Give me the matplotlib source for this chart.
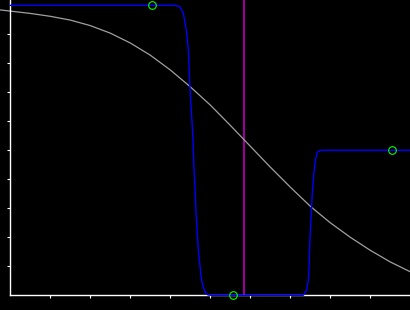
import matplotlib
matplotlib.use('Agg')
import matplotlib.pyplot as plt

# grey reference curve
grey_x = [-0.25, 0.0, 0.5, 1.0, 1.5, 2.0, 2.5, 3.0, 3.5, 4.0, 4.5, 5.0,
          5.5, 6.0, 6.5, 7.0, 7.5, 8.0, 8.5, 9.0, 9.5, 10.0]
grey_y = [0.984, 0.980, 0.972, 0.962, 0.949, 0.930, 0.904, 0.870, 0.828,
          0.777, 0.719, 0.656, 0.586, 0.514, 0.442, 0.373, 0.307, 0.250,
          0.200, 0.155, 0.115, 0.081]

# blue step curve
blue_x = [0.0, 4.12, 4.24, 4.325, 4.37, 4.41, 4.45, 4.47, 4.49, 4.52, 4.55,
          4.575, 4.59, 4.62, 4.64, 4.67, 4.70, 4.735, 4.77, 4.81, 4.87, 4.94,
          5.02, 7.325, 7.41, 7.45, 7.47, 7.49, 7.52, 7.55, 7.59, 7.63, 7.675,
          7.74, 7.80, 10.0]
blue_y = [1.0, 1.0, 0.995, 0.973, 0.939, 0.904, 0.846, 0.787, 0.718, 0.650,
          0.581, 0.511, 0.442, 0.363, 0.294, 0.225, 0.156, 0.111, 0.063,
          0.035, 0.011, 0.001, 0.0, 0.0, 0.018, 0.053, 0.098, 0.191, 0.270,
          0.353, 0.422, 0.467, 0.494, 0.499, 0.5, 0.5]

# control points
knot_x = [3.55, 5.575, 9.55]
knot_y = [1.0, 0.0, 0.5]

marker_x = 5.85

xticks = [1, 2, 3, 4, 5, 6, 7, 8, 9]
yticks = [0.1, 0.2, 0.3, 0.4, 0.5, 0.6, 0.7, 0.8, 0.9]

fig = plt.figure(figsize=(4.1001, 3.1001), dpi=100, facecolor='black')
ax = fig.add_axes([0, 0, 1, 1])
ax.set_facecolor('black')

xlim = (-0.2575, 9.9925)
ylim = (-0.0507, 1.0183)

ax.vlines(marker_x, 0, ylim[1], color='#990099', lw=1.5, zorder=1)
ax.plot(grey_x, grey_y, color='#a0a0a0', lw=0.9, zorder=2)
ax.plot(blue_x, blue_y, color='#0000ff', lw=1.0, zorder=3)
ax.plot(knot_x, knot_y, 'o', ms=5.5, mfc='none', mec='#00ff00', mew=0.8,
        clip_on=False, zorder=4)

ax.set_xlim(xlim)
ax.set_ylim(ylim)

for side in ['top', 'right']:
    ax.spines[side].set_visible(False)
for side in ['left', 'bottom']:
    ax.spines[side].set_position(('data', 0))
    ax.spines[side].set_color('white')
    ax.spines[side].set_linewidth(1.0)
ax.spines['left'].set_bounds(0, ylim[1])
ax.spines['bottom'].set_bounds(0, xlim[1])

ax.set_xticks(xticks)
ax.set_yticks(yticks)
ax.set_xticklabels([])
ax.set_yticklabels([])
ax.tick_params(colors='white', direction='out', length=2.3, width=0.8)

fig.savefig('out.png', dpi=100, facecolor='black')
